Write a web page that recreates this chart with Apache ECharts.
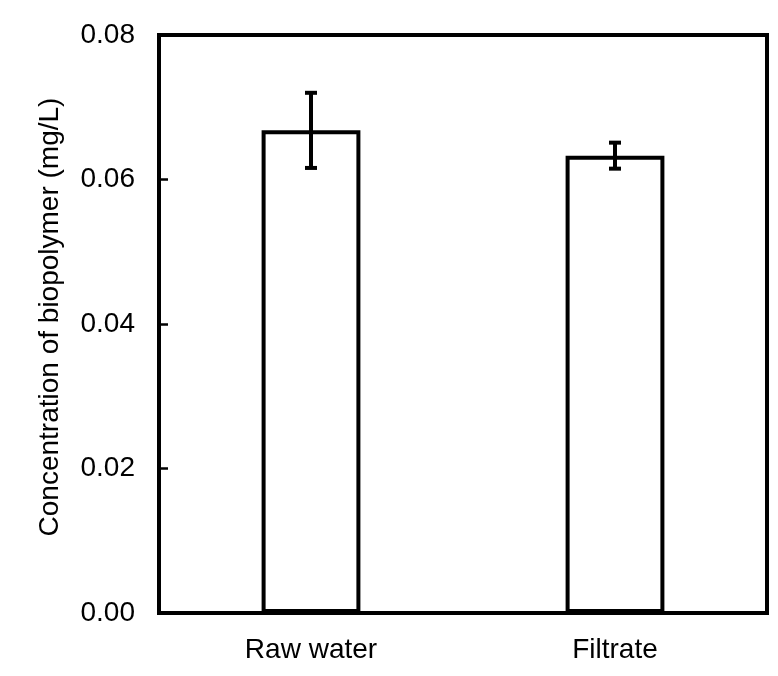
<!DOCTYPE html>
<html>
<head>
<meta charset="utf-8">
<script src="https://cdn.jsdelivr.net/npm/echarts@6/dist/echarts.min.js"></script>
<style>
  html, body { margin: 0; padding: 0; background: #fff; }
  #chart { width: 778px; height: 676px; }
</style>
</head>
<body>
<div id="chart"></div>
<script>
// Biopolymer concentration, mean with standard deviation
var categories = ['Raw water', 'Filtrate'];
var meanValues = [0.0668, 0.0633];
var errValues = [0.0052, 0.0018];
var yTicks = [0, 0.02, 0.04, 0.06, 0.08];

var FONT = 'Liberation Sans, Arial, sans-serif';

var chart = echarts.init(document.getElementById('chart'));

var errorData = categories.map(function (c, i) {
  return [i, meanValues[i] - errValues[i], meanValues[i] + errValues[i]];
});

chart.setOption({
  animation: false,
  backgroundColor: '#ffffff',
  grid: {
    left: 159, right: 11, top: 35, bottom: 63,
    show: true, borderColor: '#000', borderWidth: 4, backgroundColor: 'transparent'
  },
  xAxis: {
    type: 'category',
    data: categories,
    axisLine: { show: false },
    axisTick: { show: false },
    axisLabel: { color: '#000', fontFamily: FONT, fontSize: 28, margin: 23 }
  },
  yAxis: {
    type: 'value',
    min: yTicks[0],
    max: yTicks[yTicks.length - 1],
    interval: yTicks[1] - yTicks[0],
    name: 'Concentration of biopolymer (mg/L)',
    nameLocation: 'middle',
    nameGap: 95,
    nameTextStyle: { color: '#000', fontFamily: FONT, fontSize: 28, padding: [0, 0, 0, 14] },
    splitLine: { show: false },
    axisLine: { show: false },
    axisTick: { show: true, inside: true, length: 9, lineStyle: { color: '#000', width: 2.5 } },
    axisLabel: {
      color: '#000', fontFamily: FONT, fontSize: 28, margin: 24,
      formatter: function (v) { return v.toFixed(2); }
    }
  },
  series: [
    {
      type: 'bar',
      data: meanValues,
      barWidth: '32.5%',
      itemStyle: { color: '#ffffff', borderColor: '#000', borderWidth: 4 }
    },
    {
      type: 'custom',
      data: errorData,
      z: 10,
      renderItem: function (params, api) {
        var x = api.value(0);
        var lo = api.coord([x, api.value(1)]);
        var hi = api.coord([x, api.value(2)]);
        var cap = 6;
        var style = { stroke: '#000', lineWidth: 4 };
        return {
          type: 'group',
          children: [
            { type: 'line', shape: { x1: hi[0], y1: hi[1], x2: lo[0], y2: lo[1] }, style: style },
            { type: 'line', shape: { x1: hi[0] - cap, y1: hi[1], x2: hi[0] + cap, y2: hi[1] }, style: style },
            { type: 'line', shape: { x1: lo[0] - cap, y1: lo[1], x2: lo[0] + cap, y2: lo[1] }, style: style }
          ]
        };
      }
    }
  ]
});
</script>
</body>
</html>
